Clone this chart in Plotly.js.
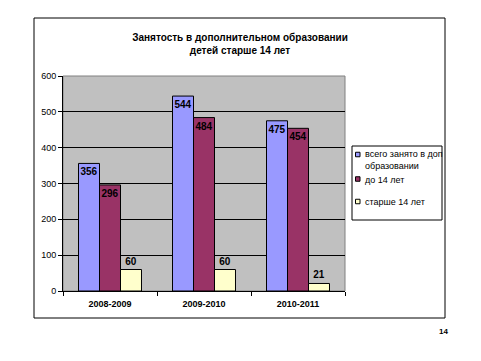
<!DOCTYPE html>
<html>
<head>
<meta charset="utf-8">
<script src="https://cdn.plot.ly/plotly-3.0.1.min.js"></script>
<style>html,body{margin:0;padding:0;background:#fff;}#chart{width:481px;height:361px;}</style>
</head>
<body>
<div id="chart"></div>
<script>
var categories = ['2008-2009', '2009-2010', '2010-2011'];
var seriesNames = ['всего занято в доп<br>образовании', 'до 14 лет', 'старше 14 лет'];
var totalValues = [356, 544, 475];
var under14Values = [296, 484, 454];
var over14Values = [60, 60, 21];
var titleText = 'Занятость в дополнительном образовании<br>детей старше 14 лет';
var pageNumber = '14';

var colors = ['#9999FF', '#993366', '#FFFFCC'];
var FONT = 'Arial, "Liberation Sans", sans-serif';

// plot area in pixels
var L = 63, R = 345, T = 76, B = 291, W = 481, H = 361;
function px(x) { return (x - L) / (R - L); }
function py(y) { return (B - y) / (B - T); }

var seriesValues = [totalValues, under14Values, over14Values];
var positions = ['inside', 'inside', 'outside'];
var traces = seriesValues.map(function (vals, i) {
  return {
    type: 'bar',
    name: seriesNames[i],
    x: categories,
    y: vals,
    text: vals.map(String),
    textposition: positions[i],
    textangle: 0,
    insidetextanchor: 'end',
    constraintext: 'none',
    cliponaxis: false,
    textfont: {family: FONT, size: 10, color: '#000', weight: 'bold'},
    insidetextfont: {family: FONT, size: 10, color: '#000', weight: 'bold'},
    outsidetextfont: {family: FONT, size: 10, color: '#000', weight: 'bold'},
    marker: {color: colors[i], line: {color: '#000', width: 1}},
    hoverinfo: 'none',
    showlegend: false
  };
});

var shapes = [
  // outer chart border
  {type: 'rect', xref: 'paper', yref: 'paper', x0: px(34), x1: px(445), y0: py(18), y1: py(318),
   line: {color: '#000', width: 1}, fillcolor: 'rgba(0,0,0,0)', layer: 'below'},
  // plot area border
  {type: 'rect', xref: 'paper', yref: 'paper', x0: 0, x1: 1, y0: 0, y1: 1,
   line: {color: '#808080', width: 1}, fillcolor: 'rgba(0,0,0,0)', layer: 'below'},
  // legend box
  {type: 'rect', xref: 'paper', yref: 'paper', x0: px(352), x1: px(442), y0: py(146), y1: py(220),
   line: {color: '#000', width: 1}, fillcolor: '#fff'}
];
var annotations = [
  {xref: 'paper', yref: 'paper', x: px(443), y: py(331), text: '<b>' + pageNumber + '</b>',
   showarrow: false, xanchor: 'center', yanchor: 'middle', font: {family: FONT, size: 8, color: '#000'}}
];
var legendSquareY = [154.5, 179, 201.5];
var legendTextY = [160, 179.5, 202];
seriesNames.forEach(function (name, i) {
  shapes.push({type: 'rect', xref: 'paper', yref: 'paper',
    x0: px(355.5), x1: px(360), y0: py(legendSquareY[i] - 2.25), y1: py(legendSquareY[i] + 2.25),
    line: {color: '#000', width: 1}, fillcolor: colors[i]});
  annotations.push({xref: 'paper', yref: 'paper', x: px(363), y: py(legendTextY[i]), text: name,
    showarrow: false, xanchor: 'left', yanchor: 'middle', align: 'left',
    font: {family: FONT, size: 9, color: '#000'}});
});

var layout = {
  width: W, height: H,
  margin: {l: L, r: W - R, t: T, b: H - B, pad: 0},
  paper_bgcolor: '#fff',
  plot_bgcolor: '#C0C0C0',
  font: {family: FONT, size: 9, color: '#000'},
  title: {text: '<b>' + titleText + '</b>', font: {family: FONT, size: 10, color: '#000'},
          xref: 'container', yref: 'container',
          x: 240 / W, xanchor: 'center', y: 1 - 41 / H, yanchor: 'middle'},
  barmode: 'group',
  bargap: 0.33,
  bargroupgap: 0,
  showlegend: false,
  xaxis: {
    type: 'category',
    showline: true, linecolor: '#000', linewidth: 1,
    ticks: 'outside', tickson: 'boundaries', ticklen: 4, tickcolor: '#000',
    tickfont: {family: FONT, size: 9, color: '#000', weight: 'bold'},
    ticklabelstandoff: 4,
    showgrid: false, zeroline: false, fixedrange: true
  },
  yaxis: {
    range: [0, 600], dtick: 100, tick0: 0,
    showline: true, linecolor: '#000', linewidth: 1,
    ticks: 'outside', ticklen: 4, tickcolor: '#000',
    tickfont: {family: FONT, size: 9, color: '#000'},
    ticklabelstandoff: 0,
    showgrid: true, gridcolor: '#000', gridwidth: 1,
    zeroline: false, fixedrange: true
  },
  shapes: shapes,
  annotations: annotations
};

Plotly.newPlot('chart', traces, layout, {displayModeBar: false, staticPlot: true});
</script>
</body>
</html>
